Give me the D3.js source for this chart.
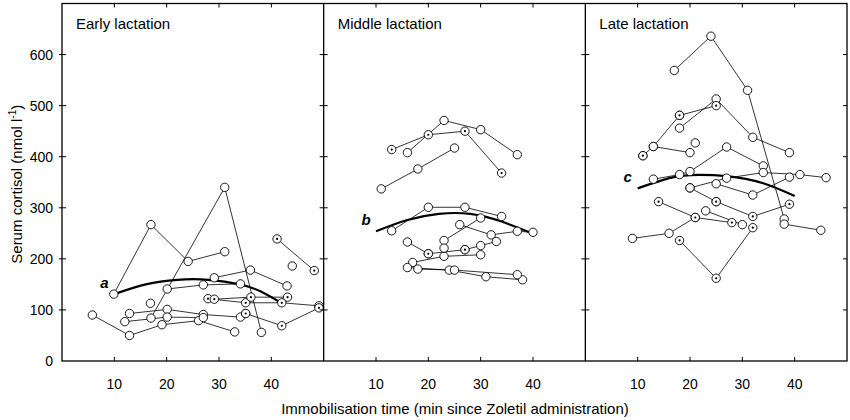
<!DOCTYPE html>
<html>
<head>
<meta charset="utf-8">
<script src="https://cdn.jsdelivr.net/npm/d3@7"></script>
<style>
  body { margin: 0; background: #fff; }
  text { font-family: "Liberation Sans", Arial, sans-serif; fill: #000; }
</style>
</head>
<body>
<div id="chart"></div>
<script>
// panel titles
const panelNames = ["Early lactation", "Middle lactation", "Late lactation"];
const fitLabels = ["a", "b", "c"];
const xTicks = [10, 20, 30, 40];
const yTicks = [0, 100, 200, 300, 400, 500, 600];

// each series = one animal, [minutes, nmol/l]
const earlySeries = [
    [[9.9, 131], [17, 267], [24.1, 195], [31.1, 214]],
    [[17, 84], [31.1, 340], [38.1, 56]],
    [[20.1, 141], [27, 149], [34.1, 151]],
    [[29.1, 163], [36, 178], [43, 147]],
    [[5.8, 90], [12.9, 50], [19.1, 71], [26.1, 79], [33, 57]],
    [[12.9, 93], [20.1, 101], [27, 91], [34.1, 86], [35.1, 93]],
    [[12, 77], [20.1, 86], [27, 85]],
    [[16.9, 113]],
    [[44, 186]]
];
const earlyDotted = [
    [[41.1, 239], [48.2, 177]],
    [[27.9, 122], [35.1, 114], [42, 114], [49.1, 108]],
    [[29.1, 121], [36.1, 125], [43.1, 125]],
    [[35.1, 93], [42, 69], [49.1, 104]]
];
const earlyFit = [[10, 131], [16, 150], [22, 159], [28, 159], [34, 150], [38, 136], [42, 113]];

const middleSeries = [
    [[16, 408], [23, 471], [30, 453], [37, 404]],
    [[11, 337], [18, 376], [25, 417]],
    [[13, 255], [20, 301], [27, 301], [34, 283]],
    [[26, 267], [32, 247], [37, 254], [40, 252]],
    [[16, 233], [20, 210]],
    [[27, 218], [30, 226], [33, 234]],
    [[23, 236], [30, 280]],
    [[17, 193], [23, 205], [30, 208]],
    [[23, 221]],
    [[16, 183], [24, 178], [31, 165], [38, 159]],
    [[18, 180], [25, 178], [37, 169]]
];
const middleDotted = [
    [[13, 414], [20, 443], [27, 450], [34, 368]],
    [[20, 210], [27, 218]]
];
const middleFit = [[10, 254], [16, 276], [22, 288], [28, 288], [34, 273], [40, 249]];

const lateSeries = [
    [[17, 569], [24, 636], [31, 530], [38, 278]],
    [[11, 402], [13, 420], [18, 481]],
    [[13, 420], [20, 408]],
    [[18, 456], [25, 513], [32, 438], [39, 408]],
    [[21, 427]],
    [[13, 356], [18, 365], [20, 371], [27, 419], [34, 382]],
    [[20, 339], [27, 358], [34, 369], [41, 365], [46, 359]],
    [[25, 347], [32, 325], [39, 360]],
    [[9, 240], [16, 250], [21, 281]],
    [[23, 294], [30, 267]],
    [[38, 268], [45, 256]],
    [[20, 339], [25, 312]]
];
const lateDotted = [
    [[11, 402]],
    [[18, 481], [25, 500]],
    [[14, 312], [21, 281], [28, 271]],
    [[25, 312], [32, 283], [39, 307]],
    [[18, 236], [25, 162], [32, 261]]
];
const lateFit = [[10, 338], [16, 358], [20, 364], [27, 362], [34, 348], [40, 323]];

const panels = [
    { series: earlySeries, dotted: earlyDotted, fit: earlyFit },
    { series: middleSeries, dotted: middleDotted, fit: middleFit },
    { series: lateSeries, dotted: lateDotted, fit: lateFit }
];

const width = 850, height = 420;
const plotLeft = 62, plotRight = 847, plotTop = 3.5, plotBottom = 361;
const panelW = (plotRight - plotLeft) / 3;

const svg = d3.select("#chart").append("svg")
    .attr("width", width)
    .attr("height", height);

svg.append("rect").attr("width", width).attr("height", height).attr("fill", "#fff");

const y = d3.scaleLinear().domain([0, 700]).range([plotBottom, plotTop]);

panels.forEach((p, i) => {
    const x0 = plotLeft + i * panelW;
    const x = d3.scaleLinear().domain([0, 50]).range([x0, x0 + panelW]);
    const g = svg.append("g");

    // ticks top and bottom, pointing in
    for (const t of xTicks) {
        g.append("line").attr("x1", x(t)).attr("x2", x(t)).attr("y1", plotBottom).attr("y2", plotBottom - 4)
            .attr("stroke", "#000").attr("stroke-width", 1);
        g.append("line").attr("x1", x(t)).attr("x2", x(t)).attr("y1", plotTop).attr("y2", plotTop + 4)
            .attr("stroke", "#000").attr("stroke-width", 1);
        g.append("text").attr("x", x(t)).attr("y", plotBottom + 28)
            .attr("text-anchor", "middle").attr("font-size", 14).text(t);
    }

    // y ticks on the panel's left edge
    for (const t of yTicks.slice(1)) {
        const x1 = i === 0 ? x0 - 3 : x0 - 4;
        g.append("line").attr("x1", x1).attr("x2", x0 + 4).attr("y1", y(t)).attr("y2", y(t))
            .attr("stroke", "#000").attr("stroke-width", 1);
    }

    g.append("text").attr("x", x0 + 14).attr("y", 29)
        .attr("font-size", 15).text(panelNames[i]);

    const line = d3.line().x(d => x(d[0])).y(d => y(d[1]));

    g.selectAll(".ser")
        .data(p.series.concat(p.dotted).filter(s => s.length > 1))
        .enter().append("path")
        .attr("d", line)
        .attr("fill", "none")
        .attr("stroke", "#000")
        .attr("stroke-width", 0.8);

    g.append("path")
        .attr("d", d3.line().x(d => x(d[0])).y(d => y(d[1])).curve(d3.curveNatural)(p.fit))
        .attr("fill", "none")
        .attr("stroke", "#000")
        .attr("stroke-width", 2.2);

    g.append("text")
        .attr("x", x(p.fit[0][0]) - 10)
        .attr("y", y(p.fit[0][1]) - 6)
        .attr("text-anchor", "middle")
        .attr("font-size", 15)
        .attr("font-weight", "bold")
        .attr("font-style", "italic")
        .text(fitLabels[i]);

    g.selectAll(".open")
        .data(p.series.flat())
        .enter().append("circle")
        .attr("cx", d => x(d[0]))
        .attr("cy", d => y(d[1]))
        .attr("r", 4.2)
        .attr("fill", "#fff")
        .attr("stroke", "#000")
        .attr("stroke-width", 0.9);

    const dots = g.selectAll(".dot")
        .data(p.dotted.flat())
        .enter().append("g")
        .attr("transform", d => `translate(${x(d[0])},${y(d[1])})`);
    dots.append("circle").attr("r", 4.2).attr("fill", "#fff").attr("stroke", "#000").attr("stroke-width", 0.9);
    dots.append("circle").attr("r", 1.1).attr("fill", "#000");
});

// frame
svg.append("rect")
    .attr("x", plotLeft).attr("y", plotTop)
    .attr("width", plotRight - plotLeft).attr("height", plotBottom - plotTop)
    .attr("fill", "none").attr("stroke", "#000").attr("stroke-width", 1.3);
for (let i = 1; i < 3; i++) {
    svg.append("line")
        .attr("x1", plotLeft + i * panelW).attr("x2", plotLeft + i * panelW)
        .attr("y1", plotTop).attr("y2", plotBottom)
        .attr("stroke", "#000").attr("stroke-width", 1.3);
}
// right edge ticks
for (const t of yTicks.slice(1)) {
    svg.append("line").attr("x1", plotRight - 4).attr("x2", plotRight).attr("y1", y(t)).attr("y2", y(t))
        .attr("stroke", "#000").attr("stroke-width", 1);
}

// y tick labels
svg.selectAll(".ylab")
    .data(yTicks)
    .enter().append("text")
    .attr("x", 53)
    .attr("y", d => y(d) + 5)
    .attr("text-anchor", "end")
    .attr("font-size", 14)
    .text(d => d);

svg.append("text")
    .attr("transform", `translate(22,${(plotTop + plotBottom) / 2 + 2}) rotate(-90)`)
    .attr("text-anchor", "middle")
    .attr("font-size", 15)
    .html("Serum cortisol (nmol l<tspan dy='-6' font-size='10'>-1</tspan><tspan dy='6'>)</tspan>");

svg.append("text")
    .attr("x", 455)
    .attr("y", 414)
    .attr("text-anchor", "middle")
    .attr("font-size", 15)
    .text("Immobilisation time (min since Zoletil administration)");
</script>
</body>
</html>
